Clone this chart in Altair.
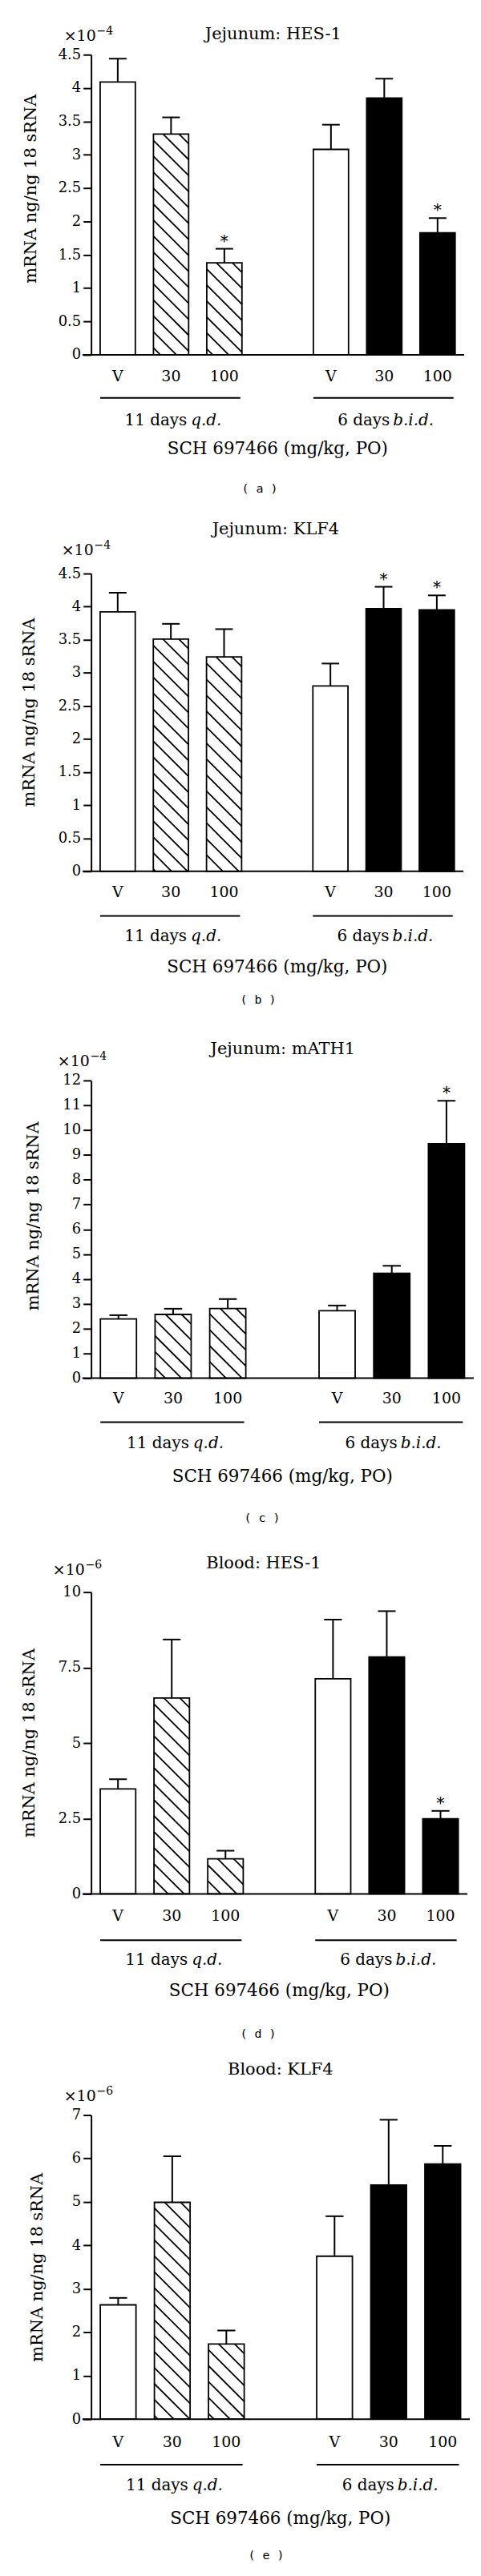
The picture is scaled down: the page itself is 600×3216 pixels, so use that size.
import altair as alt
import pandas as pd

# ---------------- data ----------------
POS = [0, 1, 2, 4, 5, 6]
DOSE = ["V", "30", "100", "V", "30", "100"]
STYLE = ["open", "hatch", "hatch", "open", "solid", "solid"]

TITLES = ["Jejunum: HES-1", "Jejunum: KLF4", "Jejunum: mATH1", "Blood: HES-1", "Blood: KLF4"]
EXPONENTS = ["\u22124", "\u22124", "\u22124", "\u22126", "\u22126"]
LETTERS = ["( a )", "( b )", "( c )", "( d )", "( e )"]
YMAX = [4.5, 4.5, 12, 10, 7]
YTICKS = [
    [0, 0.5, 1, 1.5, 2, 2.5, 3, 3.5, 4, 4.5],
    [0, 0.5, 1, 1.5, 2, 2.5, 3, 3.5, 4, 4.5],
    [0, 1, 2, 3, 4, 5, 6, 7, 8, 9, 10, 11, 12],
    [0, 2.5, 5, 7.5, 10],
    [0, 1, 2, 3, 4, 5, 6, 7],
]

MEAN_A = [4.09, 3.31, 1.38, 3.08, 3.85, 1.83]
UPPER_A = [4.44, 3.56, 1.59, 3.45, 4.14, 2.05]
STAR_A = [False, False, True, False, False, True]

MEAN_B = [3.92, 3.51, 3.24, 2.80, 3.97, 3.95]
UPPER_B = [4.21, 3.74, 3.66, 3.14, 4.30, 4.17]
STAR_B = [False, False, False, False, True, True]

MEAN_C = [2.39, 2.57, 2.81, 2.72, 4.23, 9.45]
UPPER_C = [2.54, 2.80, 3.19, 2.93, 4.53, 11.18]
STAR_C = [False, False, False, False, False, True]

MEAN_D = [3.48, 6.49, 1.16, 7.13, 7.85, 2.49]
UPPER_D = [3.80, 8.43, 1.43, 9.09, 9.37, 2.75]
STAR_D = [False, False, False, False, False, True]

MEAN_E = [2.63, 4.99, 1.73, 3.75, 5.39, 5.87]
UPPER_E = [2.79, 6.05, 2.04, 4.67, 6.89, 6.29]
STAR_E = [False, False, False, False, False, False]

MEANS = [MEAN_A, MEAN_B, MEAN_C, MEAN_D, MEAN_E]
UPPERS = [UPPER_A, UPPER_B, UPPER_C, UPPER_D, UPPER_E]
STARS = [STAR_A, STAR_B, STAR_C, STAR_D, STAR_E]

GROUP_MAIN = ["11 days", "6 days"]
GROUP_ITAL = ["q.d.", "b.i.d."]
GROUP_START = [0, 4]
GROUP_END = [2, 6]
GROUP_MID = [1, 5]
XTITLE = "SCH 697466 (mg/kg, PO)"
YTITLE = "mRNA ng/ng 18 sRNA"

# ---------------- layout (pixels) ----------------
SERIF = "DejaVu Serif"
LAYOUT = [
    dict(L=112, step=66.75, h=376, top=55, bottom=193, title_b=-19, title_cx=340, exp_b=-17, exp_x=78,
         yt=168, tick=33, brk=54, grp=88, xt=124, let=168),
    dict(L=114, step=66.6, h=373, top=81, bottom=191, title_b=-49, title_cx=345, exp_b=-23, exp_x=77,
         yt=174, tick=32, brk=56, grp=88, xt=127, let=161),
    dict(L=109, step=68.4, h=373, top=71, bottom=203, title_b=-33, title_cx=349, exp_b=-18, exp_x=67,
         yt=170, tick=32, brk=55, grp=88, xt=130, let=175),
    dict(L=114, step=67.3, h=378, top=65, bottom=197, title_b=-30, title_cx=330, exp_b=-22, exp_x=66,
         yt=189, tick=34, brk=58, grp=89, xt=128, let=175),
    dict(L=104, step=67.75, h=381, top=80, bottom=178, title_b=-51, title_cx=341, exp_b=-18, exp_x=70,
         yt=191, tick=35, brk=57, grp=89, xt=131, let=170),
]
HALF = 0.33      # half bar width in slot units
CAP = 0.165      # half error-cap width
HATCH = 20       # hatch spacing in px


def hatch_segments(pos, mean, step, ppu):
    w = 2 * HALF * step
    H = mean * ppu
    segs = []
    k = -w + HATCH * 0.6
    while k < H:
        u0 = max(0.0, -k)
        u1 = min(w, H - k)
        if u1 > u0:
            segs.append(dict(hx0=pos - HALF + u0 / step, hy0=mean - (u0 + k) / ppu,
                             hx1=pos - HALF + u1 / step, hy1=mean - (u1 + k) / ppu))
        k += HATCH
    return segs


def one():
    return alt.Chart(pd.DataFrame({"d": [0]}))


def panel(i):
    lay = LAYOUT[i]
    L, step, h = lay["L"], lay["step"], lay["h"]
    w = round(7 * step)
    ppu = h / YMAX[i]
    df = pd.DataFrame({"pos": POS, "dose": DOSE, "style": STYLE,
                       "mean": MEANS[i], "upper": UPPERS[i], "star": STARS[i]})
    df["x0"] = df["pos"] - HALF
    df["x1"] = df["pos"] + HALF
    df["c0"] = df["pos"] - CAP
    df["c1"] = df["pos"] + CAP
    df["zero"] = 0.0

    xs = alt.Scale(domain=[-0.5, 6.5], nice=False, zero=False)
    ys = alt.Scale(domain=[0, YMAX[i]], nice=False, zero=True)
    yaxis = alt.Axis(values=YTICKS[i], format=".3~g", title=None, grid=False,
                     domainColor="black", domainWidth=2, tickColor="black", tickWidth=2,
                     tickSize=10, labelFont=SERIF, labelFontSize=18, labelColor="black",
                     labelPadding=3, labelFlush=False, labelOverlap=False)

    base = alt.Chart(df)
    bars = base.mark_bar(stroke="black", strokeWidth=1.8).encode(
        x=alt.X("x0:Q", scale=xs, axis=None), x2="x1:Q",
        y=alt.Y("mean:Q", scale=ys, axis=yaxis), y2="zero:Q",
        fill=alt.Fill("style:N", scale=alt.Scale(domain=["open", "hatch", "solid"],
                                                  range=["white", "white", "black"]), legend=None),
    )

    segs = []
    for p, m, s in zip(POS, MEANS[i], STYLE):
        if s == "hatch":
            segs += hatch_segments(p, m, step, ppu)
    hatch = alt.Chart(pd.DataFrame(segs)).mark_rule(color="black", strokeWidth=1.8).encode(
        x=alt.X("hx0:Q", scale=xs, axis=None), x2="hx1:Q",
        y=alt.Y("hy0:Q", scale=ys, axis=yaxis), y2="hy1:Q")

    err = base.mark_rule(color="black", strokeWidth=2).encode(
        x=alt.X("pos:Q", scale=xs, axis=None),
        y=alt.Y("mean:Q", scale=ys, axis=yaxis), y2="upper:Q")
    cap = base.mark_rule(color="black", strokeWidth=2).encode(
        x=alt.X("c0:Q", scale=xs, axis=None), x2="c1:Q",
        y=alt.Y("upper:Q", scale=ys, axis=yaxis))
    star = base.transform_filter("datum.star").mark_text(
        text="*", font=SERIF, fontSize=20, baseline="alphabetic", dy=-3, color="black").encode(
        x=alt.X("pos:Q", scale=xs, axis=None),
        y=alt.Y("upper:Q", scale=ys, axis=yaxis))

    baseline = alt.Chart(pd.DataFrame({"a": [-0.66], "b": [6.5], "z": [0.0]})).mark_rule(
        color="black", strokeWidth=2).encode(
        x=alt.X("a:Q", scale=xs, axis=None), x2="b:Q",
        y=alt.Y("z:Q", scale=ys, axis=yaxis))

    doses = base.mark_text(font=SERIF, fontSize=19, baseline="alphabetic", color="black").encode(
        x=alt.X("pos:Q", scale=xs, axis=None), y=alt.value(h + lay["tick"]), text="dose:N")

    gdf = pd.DataFrame({"main": GROUP_MAIN, "ital": GROUP_ITAL,
                        "b0": [s - HALF for s in GROUP_START], "b1": [e - HALF + 0.63 for e in GROUP_END],
                        "mid": GROUP_MID})
    gbase = alt.Chart(gdf)
    brackets = gbase.mark_rule(color="black", strokeWidth=2).encode(
        x=alt.X("b0:Q", scale=xs, axis=None), x2="b1:Q", y=alt.value(h + lay["brk"]))
    gmain = gbase.transform_filter("datum.mid < 3").mark_text(
        font=SERIF, fontSize=20, baseline="alphabetic", align="right", dx=20, color="black").encode(
        x=alt.X("mid:Q", scale=xs, axis=None), y=alt.value(h + lay["grp"]), text="main:N")
    gital = gbase.transform_filter("datum.mid < 3").mark_text(
        font=SERIF, fontSize=20, fontStyle="italic", baseline="alphabetic", align="left", dx=25,
        color="black").encode(
        x=alt.X("mid:Q", scale=xs, axis=None), y=alt.value(h + lay["grp"]), text="ital:N")
    gmain2 = gbase.transform_filter("datum.mid > 3").mark_text(
        font=SERIF, fontSize=20, baseline="alphabetic", align="right", dx=7, color="black").encode(
        x=alt.X("mid:Q", scale=xs, axis=None), y=alt.value(h + lay["grp"]), text="main:N")
    gital2 = gbase.transform_filter("datum.mid > 3").mark_text(
        font=SERIF, fontSize=20, fontStyle="italic", baseline="alphabetic", align="left", dx=11,
        color="black").encode(
        x=alt.X("mid:Q", scale=xs, axis=None), y=alt.value(h + lay["grp"]), text="ital:N")

    xtitle = alt.Chart(pd.DataFrame({"m": [(POS[0] + POS[-1]) / 2], "t": [XTITLE]})).mark_text(
        font=SERIF, fontSize=21.5, baseline="alphabetic", color="black").encode(
        x=alt.X("m:Q", scale=xs, axis=None), y=alt.value(h + lay["xt"]), text="t:N")

    title = one().mark_text(text=TITLES[i], font=SERIF, fontSize=21, baseline="alphabetic",
                            align="center", color="black").encode(
        x=alt.value(lay["title_cx"] - L), y=alt.value(lay["title_b"]))
    times = one().mark_text(text="\u00d710", font=SERIF, fontSize=19, baseline="alphabetic",
                            align="left", color="black").encode(
        x=alt.value(lay["exp_x"] - L), y=alt.value(lay["exp_b"]))
    expo = one().mark_text(text=EXPONENTS[i], font=SERIF, fontSize=14, baseline="alphabetic",
                           align="left", color="black").encode(
        x=alt.value(lay["exp_x"] - L + 41), y=alt.value(lay["exp_b"] - 8))
    ytitle = one().mark_text(text=YTITLE, font=SERIF, fontSize=21, baseline="middle", align="center",
                             angle=270, color="black").encode(
        x=alt.value(37 - L), y=alt.value(lay["yt"]))
    letter = one().mark_text(text=LETTERS[i], font="DejaVu Sans Mono", fontSize=15, baseline="middle",
                             align="center", color="black").encode(
        x=alt.value(323 - L), y=alt.value(h + lay["let"]))

    # invisible bounds so each panel occupies its own slot
    bl = one().mark_rule(color="white", opacity=0).encode(
        x=alt.value(-(L - 8)), y=alt.value(h / 2), y2=alt.value(h / 2 + 1))
    bt = one().mark_rule(color="white", opacity=0).encode(
        x=alt.value(4), x2=alt.value(5), y=alt.value(-lay["top"]))
    bb = one().mark_rule(color="white", opacity=0).encode(
        x=alt.value(4), x2=alt.value(5), y=alt.value(h + lay["bottom"]))

    return alt.layer(bars, hatch, err, cap, star, baseline, doses, brackets, gmain, gital,
                     gmain2, gital2, xtitle, title, times, expo, ytitle, letter, bl, bt, bb
                     ).properties(width=w, height=h)


chart = alt.vconcat(*[panel(i) for i in range(5)], spacing=0).properties(
    padding=0, background="white"
).configure_view(stroke=None)

chart.save("out.html", embed_options={"renderer": "svg", "actions": False})
